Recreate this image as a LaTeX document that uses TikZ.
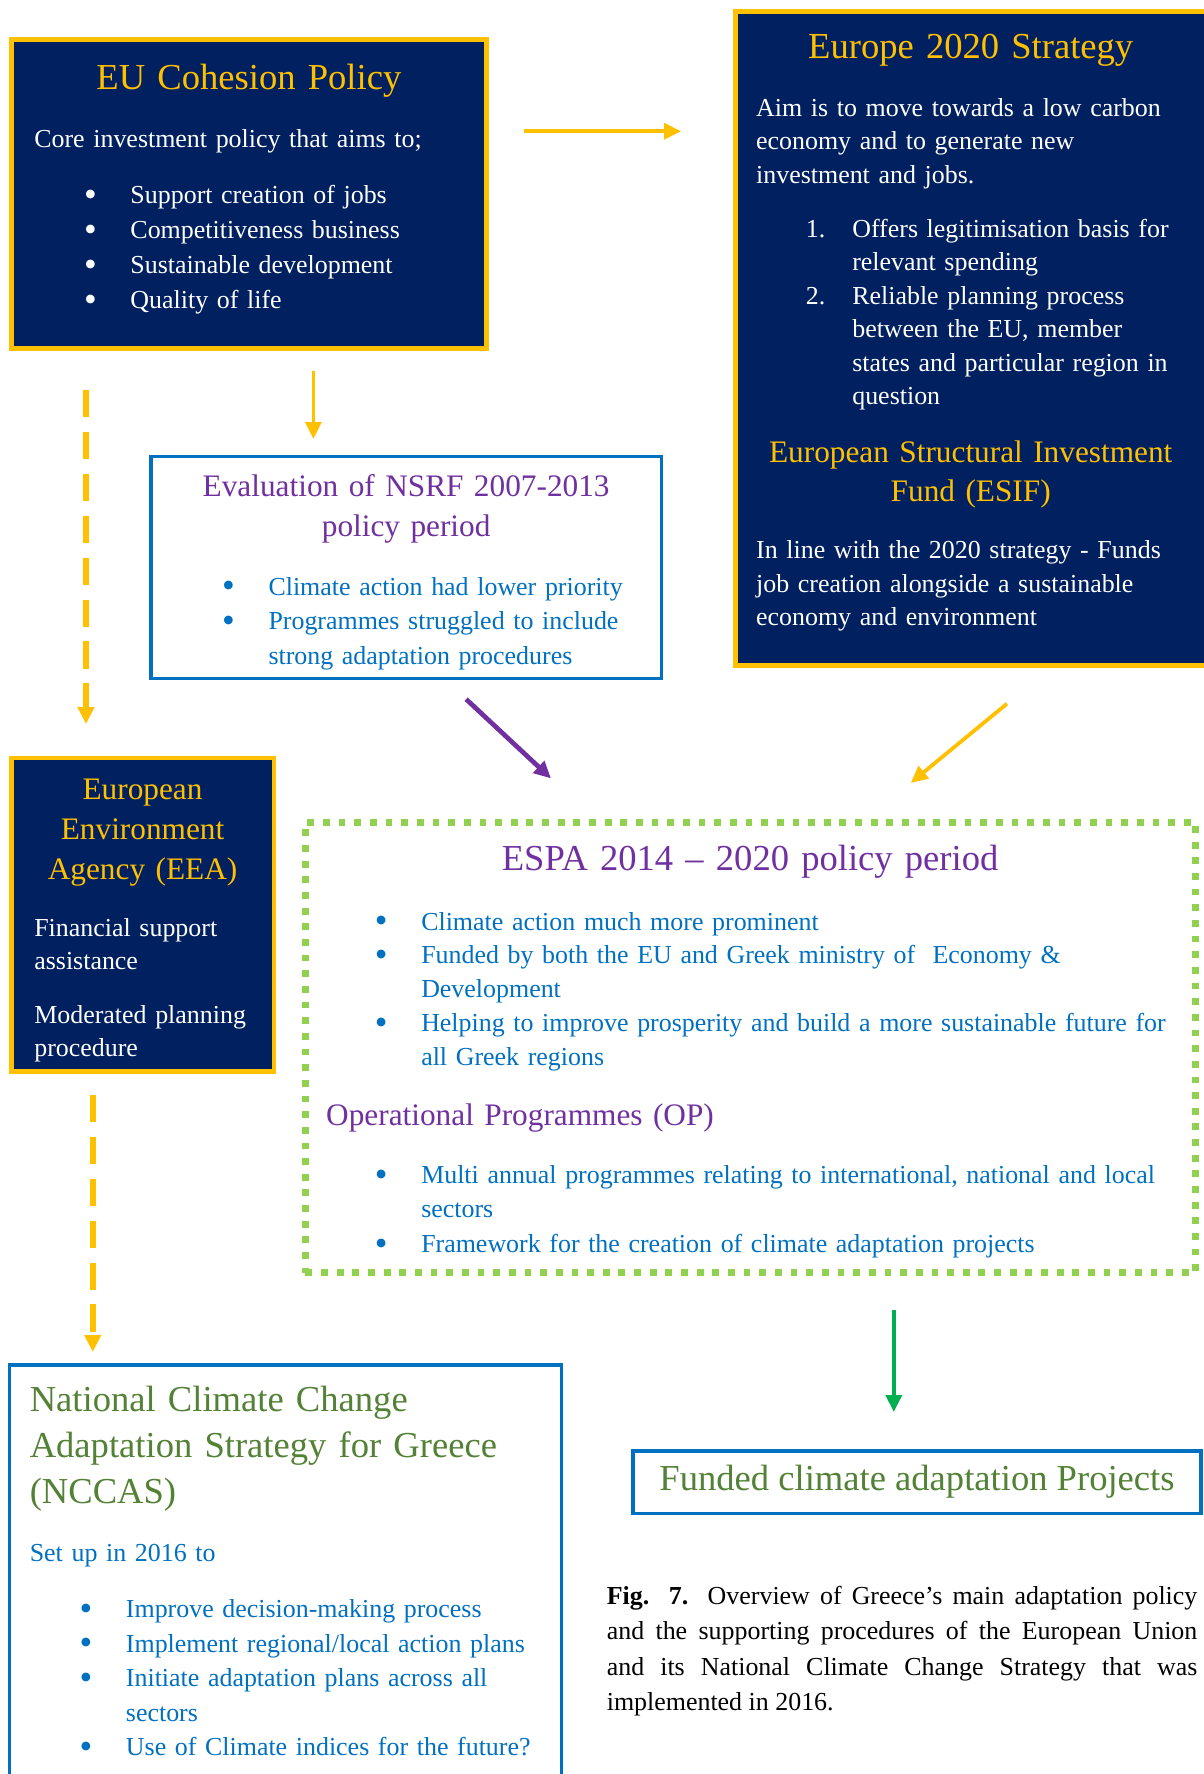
\documentclass[tikz,border=0pt]{standalone}
\usepackage{fontspec}
\setmainfont{Liberation Serif}
\usetikzlibrary{arrows.meta,positioning}

\definecolor{navy}{RGB}{0,32,96}
\definecolor{gold}{RGB}{255,192,0}
\definecolor{ablue}{RGB}{0,112,192}
\definecolor{apurple}{RGB}{112,48,160}
\definecolor{agreen}{RGB}{83,129,53}
\definecolor{lgreen}{RGB}{146,208,80}
\definecolor{sgreen}{RGB}{0,176,80}

\newcommand{\blt}{\makebox[24.6pt][l]{\raisebox{-0.1em}{\scalebox{1.4}{\textbullet}}}}

\begin{document}
\begin{tikzpicture}[x=0.6pt, y=-0.6pt,
  navybox/.style={draw=gold, line width=2.4pt, fill=navy, anchor=north west, inner sep=0pt},
  bluebox/.style={draw=ablue, line width=1.8pt, fill=white, anchor=north west, inner sep=0pt},
  dotbox/.style={draw=lgreen, line width=3.6pt, dash pattern=on 3.6pt off 4.7pt, anchor=north west, inner sep=0pt},
  head/.style={font=\fontsize{19.4pt}{#1}\selectfont, anchor=base, inner sep=0pt, yshift=-1.2pt, text width=320pt, align=center},
  head/.default=24pt,
  subhead/.style={font=\fontsize{16.6pt}{#1}\selectfont, anchor=base, inner sep=0pt, yshift=-1.2pt, text width=320pt, align=center},
  subhead/.default=21pt,
  body/.style={font=\fontsize{13.75pt}{#1}\selectfont, anchor=base west, inner sep=0pt, yshift=-1.2pt, text width=470pt, align=left},
  body/.default=18.6pt,
  tip/.style={-{Triangle[length=9pt,width=8.4pt]}},
  yarrow/.style={tip, draw=gold, line width=2pt},
  ydashed/.style={tip, draw=gold, line width=3pt, dash pattern=on 14.4pt off 7.8pt},
  parrow/.style={tip, draw=apurple, line width=2.5pt},
  garrow/.style={tip, draw=sgreen, line width=2pt}]
\useasboundingbox (0,0) rectangle (1064,1568);

\node[navybox, minimum width=252pt, minimum height=163.8pt] (cohesion) at (8,33) {};
\node[head, text=gold] (cohesiontitle) at (220,77) {EU Cohesion Policy};
\node[body, text=white] (cohesiontext) at (30,128) {Core investment policy that aims to;\\[11.4pt]
  \hspace*{26.4pt}\blt Support creation of jobs\\
  \hspace*{26.4pt}\blt Competitiveness business\\
  \hspace*{26.4pt}\blt Sustainable development\\
  \hspace*{26.4pt}\blt Quality of life};

\node[navybox, minimum width=253.2pt, minimum height=346.8pt] (strategy) at (648,8) {};
\node[head, text=gold] (strategytitle) at (858,50) {Europe 2020 Strategy};
\node[body=17.7pt, text=white] (strategytext) at (668,101) {Aim is to move towards a low carbon\\
  economy and to generate new\\
  investment and jobs.\\[11.1pt]
  \hspace*{26.4pt}\makebox[24.6pt][l]{1.}Offers legitimisation basis for\\
  \hspace*{51pt}relevant spending\\
  \hspace*{26.4pt}\makebox[24.6pt][l]{2.}Reliable planning process\\
  \hspace*{51pt}between the EU, member\\
  \hspace*{51pt}states and particular region in\\
  \hspace*{51pt}question};
\node[subhead=20.4pt, text=gold] (esiftitle) at (858,407) {European Structural Investment\\Fund (ESIF)};
\node[body=17.7pt, text=white] (esiftext) at (668,492) {In line with the 2020 strategy - Funds\\
  job creation alongside a sustainable\\
  economy and environment};

\node[bluebox, minimum width=270.6pt, minimum height=117.6pt] (nsrf) at (132,402) {};
\node[subhead, text=apurple] (nsrftitle) at (359,437) {Evaluation of NSRF 2007-2013\\policy period};
\node[body=18.3pt, text=ablue] (nsrftext) at (196,524) {\blt Climate action had lower priority\\
  \blt Programmes struggled to include\\
  \hspace*{24.6pt}strong adaptation procedures};

\node[navybox, minimum width=139.2pt, minimum height=166.2pt] (eea) at (8,668) {};
\node[subhead, text=gold] (eeatitle) at (126,705) {European\\Environment\\Agency (EEA)};
\node[body=17.4pt, text=white] (eeatext) at (30,826) {Financial support\\
  assistance\\[11.4pt]
  Moderated planning\\
  procedure};

\node[dotbox, minimum width=472.2pt, minimum height=238.8pt] (espa) at (267,724) {};
\node[head, text=apurple] (espatitle) at (663,767) {ESPA 2014 – 2020 policy period};
\node[body=18pt, text=ablue] (espatext) at (331,820) {\blt Climate action much more prominent\\
  \blt Funded by both the EU and Greek ministry of\ \ Economy \&\\
  \hspace*{24.6pt}Development\\
  \blt Helping to improve prosperity and build a more sustainable future for\\
  \hspace*{24.6pt}all Greek regions};
\node[subhead, anchor=base west, align=left, text=apurple] (optitle) at (288,993) {Operational Programmes (OP)};
\node[body=18.3pt, text=ablue] (optext) at (331,1044) {\blt Multi annual programmes relating to international, national and local\\
  \hspace*{24.6pt}sectors\\
  \blt Framework for the creation of climate adaptation projects};

\node[bluebox, minimum width=292.8pt, minimum height=227.1pt] (nccas) at (7,1205) {};
\node[head=24.3pt, anchor=base west, align=left, text=agreen] (nccastitle) at (26,1246) {National Climate Change\\Adaptation Strategy for Greece\\(NCCAS)};
\node[body=18.3pt, text=ablue] (nccastext) at (26,1378) {Set up in 2016 to\\[11.7pt]
  \hspace*{26.4pt}\blt Improve decision-making process\\
  \hspace*{26.4pt}\blt Implement regional/local action plans\\
  \hspace*{26.4pt}\blt Initiate adaptation plans across all\\
  \hspace*{51pt}sectors\\
  \hspace*{26.4pt}\blt Use of Climate indices for the future?};

\node[bluebox, minimum width=301.2pt, minimum height=33pt, font=\fontsize{19.4pt}{24pt}\selectfont, text=agreen] (funded) at (558,1281) {Funded climate adaptation Projects};

\node[anchor=base west, inner sep=0pt, yshift=-1.2pt, text width=313.2pt, align=justify, font=\fontsize{13.75pt}{18.8pt}\selectfont] (caption) at (536,1416) {\textbf{Fig. 7.} Overview of Greece’s main adaptation policy\linebreak
  and the supporting procedures of the European Union\linebreak
  and its National Climate Change Strategy that was\linebreak
  implemented in 2016.};

\draw[yarrow, shorten <=18.6pt, shorten >=27.6pt] ([yshift=33.3pt]cohesion.east) -- ([yshift=33.3pt]cohesion.east -| strategy.west);
\draw[yarrow, shorten <=10.8pt, shorten >=8.4pt] ([xshift=34.2pt]cohesion.south) -- ([xshift=34.2pt]cohesion.south |- nsrf.north);
\draw[ydashed, shorten <=21pt, shorten >=16.8pt] ([xshift=-86.4pt]cohesion.south) -- ([xshift=-86.4pt]cohesion.south |- eea.north);
\draw[ydashed, shorten <=11.4pt, shorten >=6pt] ([xshift=-26.4pt]eea.south) -- ([xshift=-26.4pt]eea.south |- nccas.north);
\draw[parrow] ([shift={(31.8pt,-10.2pt)}]nsrf.south) -- ([shift={(-105.9pt,21.6pt)}]espa.north);
\draw[yarrow] ([shift={(17.4pt,-19.2pt)}]strategy.south) -- ([shift={(84.9pt,19.2pt)}]espa.north);
\draw[garrow, shorten <=18pt, shorten >=19.8pt] ([xshift=75.9pt]espa.south) -- ([xshift=75.9pt]espa.south |- funded.north);
\end{tikzpicture}
\end{document}
